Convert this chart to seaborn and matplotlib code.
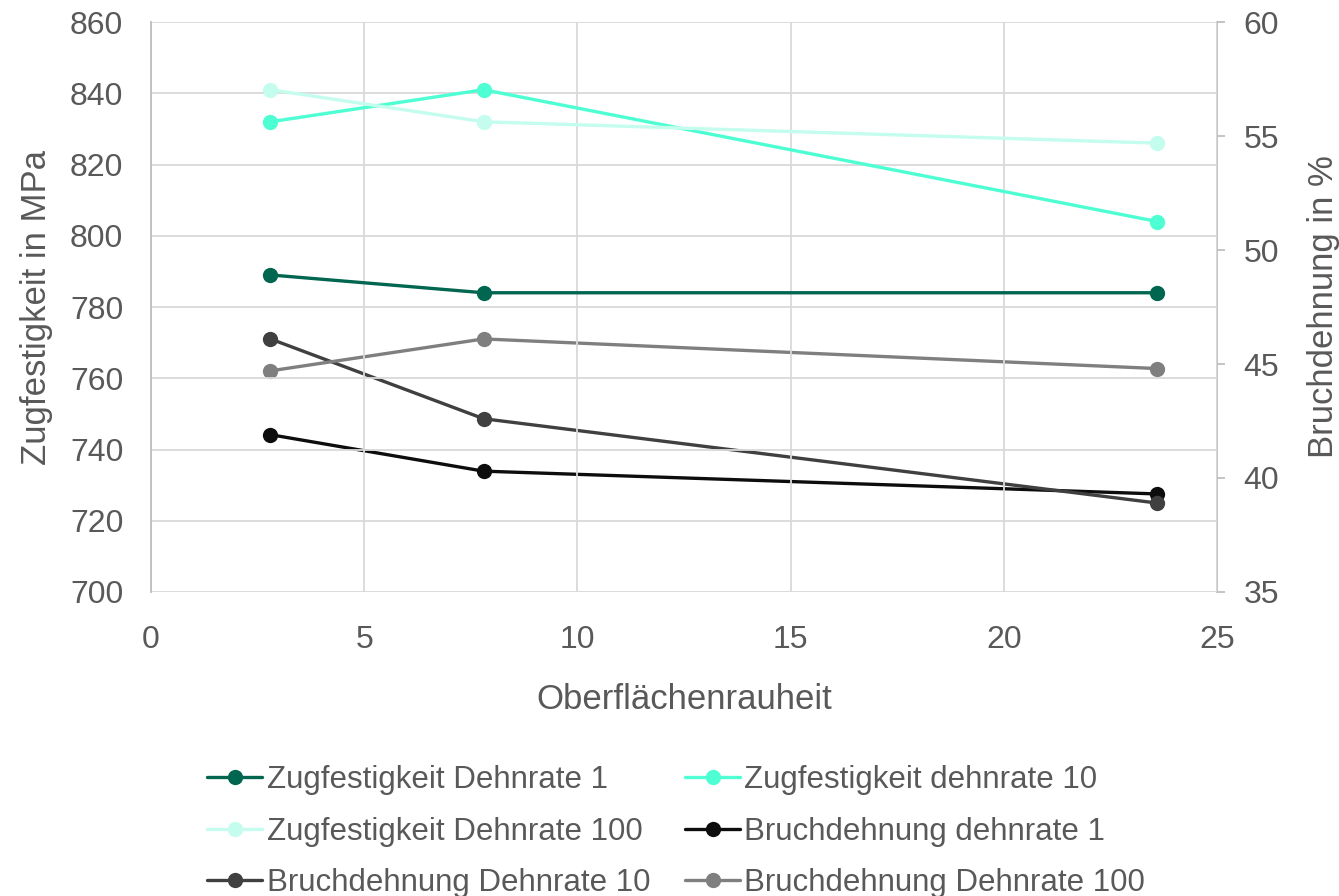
import numpy as np
import pandas as pd
import seaborn as sns
import matplotlib.pyplot as plt

# Oberflächenrauheit
rauheit = [2.8, 7.8, 23.6]

zug_1 = [789, 784, 784]
zug_10 = [832, 841, 804]
zug_100 = [841, 832, 826]

bruch_1 = [41.9, 40.3, 39.3]
bruch_10 = [46.1, 42.6, 38.9]
bruch_100 = [44.7, 46.1, 44.8]

zug_names = ['Zugfestigkeit Dehnrate 1', 'Zugfestigkeit dehnrate 10', 'Zugfestigkeit Dehnrate 100']
bruch_names = ['Bruchdehnung dehnrate 1', 'Bruchdehnung Dehnrate 10', 'Bruchdehnung Dehnrate 100']
zug_colors = ['#00664F', '#4DFFD2', '#C4FCEE']
bruch_colors = ['#0D0D0D', '#404040', '#7F7F7F']

text_color = '#595959'
grid_color = '#D9D9D9'


def long_table(names, series):
    rows = []
    for name, vals in zip(names, series):
        for x, v in zip(rauheit, vals):
            rows.append({'x': x, 'y': v, 'serie': name})
    return pd.DataFrame(rows)


df_zug = long_table(zug_names, [zug_1, zug_10, zug_100])
df_bruch = long_table(bruch_names, [bruch_1, bruch_10, bruch_100])

sns.set_style('white')
plt.rcParams['font.family'] = ['Liberation Sans', 'DejaVu Sans']

fig = plt.figure(figsize=(13.39, 8.96), dpi=100)
ax = fig.add_axes([0.1128, 0.3393, 0.7961, 0.6361])
ax2 = ax.twinx()

line_kw = dict(marker='o', markersize=11, markeredgewidth=0, linewidth=2.4)
sns.lineplot(data=df_zug, x='x', y='y', hue='serie', hue_order=zug_names,
             palette=zug_colors, ax=ax, legend=False, **line_kw)
sns.lineplot(data=df_bruch, x='x', y='y', hue='serie', hue_order=bruch_names,
             palette=bruch_colors, ax=ax2, legend=False, **line_kw)
ax.set_zorder(ax2.get_zorder() + 1)
ax.patch.set_visible(False)

ax.set_xlim(0, 25)
ax.set_ylim(700, 860)
ax.set_yticks(np.arange(700, 861, 20))
ax.set_xticks(np.arange(0, 26, 5))
ax2.set_ylim(35, 60)
ax2.set_yticks(np.arange(35, 61, 5))

ax.grid(True, color=grid_color, linewidth=1.3)
ax2.grid(False)

for a in (ax, ax2):
    for s in a.spines.values():
        s.set_visible(False)
    a.tick_params(labelsize=23, colors=text_color, length=0)
ax.spines['left'].set_visible(True)
ax.spines['left'].set_color('#BFBFBF')
ax.spines['left'].set_linewidth(1.3)
ax2.spines['right'].set_visible(True)
ax2.spines['right'].set_color('#BFBFBF')
ax2.spines['right'].set_linewidth(1.3)
ax2.tick_params(axis='y', length=6, width=1.3, color='#BFBFBF', pad=13)
ax.tick_params(axis='y', pad=20)
ax.tick_params(axis='x', pad=24)

ax.set_xlabel('Oberflächenrauheit', fontsize=25, color=text_color, labelpad=20)
ax.set_ylabel('Zugfestigkeit in MPa', fontsize=25, color=text_color, labelpad=12)
ax2.set_ylabel('Bruchdehnung in %', fontsize=25, color=text_color, labelpad=20)

# legend, row-major order as in the original
handles = ax.get_lines()[:3] + ax2.get_lines()[:3]
labels = zug_names + bruch_names
order = [0, 2, 4, 1, 3, 5]
leg = fig.legend([handles[i] for i in order], [labels[i] for i in order],
                 loc='upper center', bbox_to_anchor=(0.505, 0.178), ncol=2,
                 frameon=False, fontsize=22.5, handlelength=1.76, handletextpad=0.13,
                 columnspacing=1.12, labelspacing=0.7)
for t in leg.get_texts():
    t.set_color(text_color)

fig.savefig('out.png', dpi=100)
